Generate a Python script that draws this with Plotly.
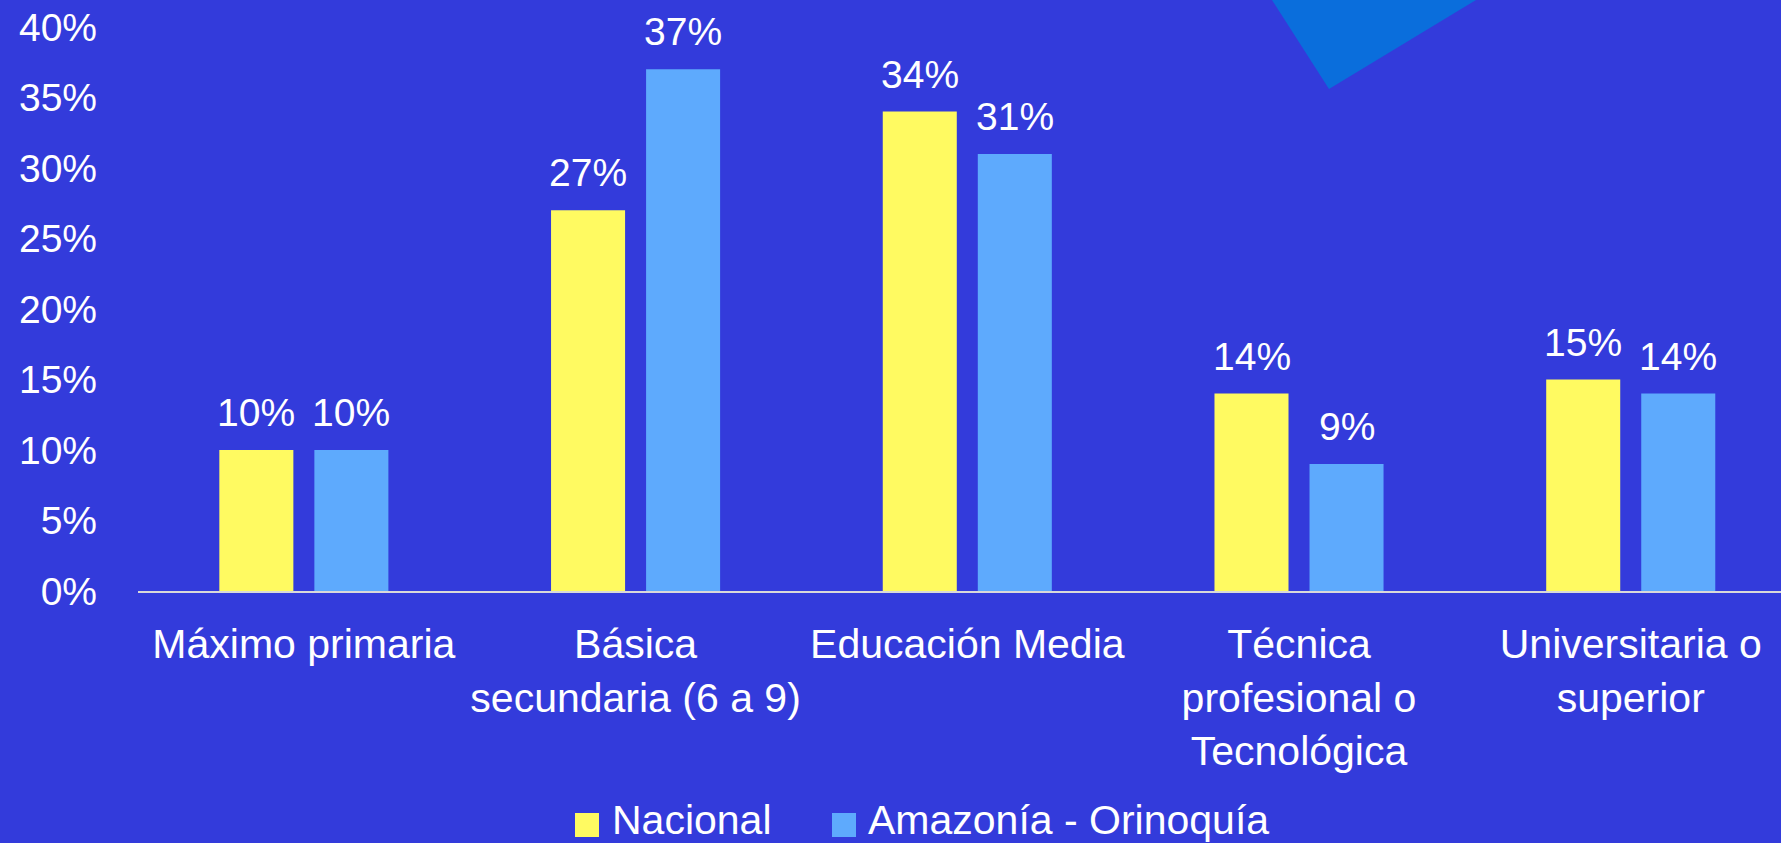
import plotly.graph_objects as go

categories = ["Máximo primaria", "Básica<br>secundaria (6 a 9)", "Educación Media",
              "Técnica<br>profesional o<br>Tecnológica", "Universitaria o<br>superior"]
series_names = ["Nacional", "Amazonía - Orinoquía"]
nacional = [0.10, 0.27, 0.34, 0.14, 0.15]
amazonia = [0.10, 0.37, 0.31, 0.09, 0.14]
colors = ["#FFFA61", "#5EAAFD"]
y_ticks = [0, 0.05, 0.10, 0.15, 0.20, 0.25, 0.30, 0.35, 0.40]

W, H = 1781, 843
BG = "#333BDB"
FONT = "Liberation Sans, Arial, sans-serif"

fig = go.Figure()
for name, vals, col in zip(series_names, [nacional, amazonia], colors):
    fig.add_trace(go.Bar(x=categories, y=vals, name=name, marker_color=col,
                         marker_line_width=0, showlegend=False))

# data labels (placed above each bar, shifted to each bar's slot)
slot_px = 47.5
for i, vals in enumerate([nacional, amazonia]):
    shift = -slot_px if i == 0 else slot_px
    for c, v in zip(categories, vals):
        fig.add_annotation(x=c, y=v, text=f"{v*100:.0f}%", showarrow=False,
                           xref="x", yref="y", xshift=shift, yanchor="bottom",
                           yshift=14, font=dict(family=FONT, size=39, color="white"))

# decorative triangle
fig.add_shape(type="path", xref="paper", yref="paper", layer="below",
              path=f"M {(1272-138)/1643} {1+27/564} L {(1476-138)/1643} {1+27/564} L {(1329-138)/1643} {1-(89-27)/564} Z",
              fillcolor="#0A6EDC", line_width=0)

# custom legend
leg_sq = [575, 832]
leg_tx = [611, 867]
for name, col, sx, tx in zip(series_names, colors, leg_sq, leg_tx):
    fig.add_shape(type="rect", xref="paper", yref="paper",
                  x0=(sx-138)/1643, x1=(sx+24-138)/1643,
                  y0=(591-837)/564, y1=(591-813)/564,
                  fillcolor=col, line_width=0)
    fig.add_annotation(xref="paper", yref="paper", x=(tx-138)/1643, y=(591-820)/564,
                       xanchor="left", yanchor="middle", text=name, showarrow=False,
                       borderpad=0, font=dict(family=FONT, size=41, color="white"))

fig.update_layout(
    width=W, height=H,
    margin=dict(l=138, r=0, t=27, b=252, pad=0),
    paper_bgcolor=BG, plot_bgcolor=BG,
    barmode="group", bargap=0.427, bargroupgap=0.221,
    showlegend=False,
    font=dict(family=FONT, color="white", size=40),
)
fig.update_xaxes(range=[-0.5, 4.453], showgrid=False, showline=True, linecolor="#D9D9D9",
                 linewidth=2, ticks="", tickfont=dict(family=FONT, size=41, color="white"),
                 ticklabelstandoff=16, zeroline=False)
fig.update_yaxes(range=[0, 0.40], tickvals=y_ticks, tickformat=".0%", showgrid=False,
                 showline=False, zeroline=False, ticks="", ticklabelstandoff=40,
                 tickfont=dict(family=FONT, size=39, color="white"))

fig.write_html("out.html", config={"displayModeBar": False},
               post_script="document.body.style.margin='0';document.body.style.background='#333BDB';")
